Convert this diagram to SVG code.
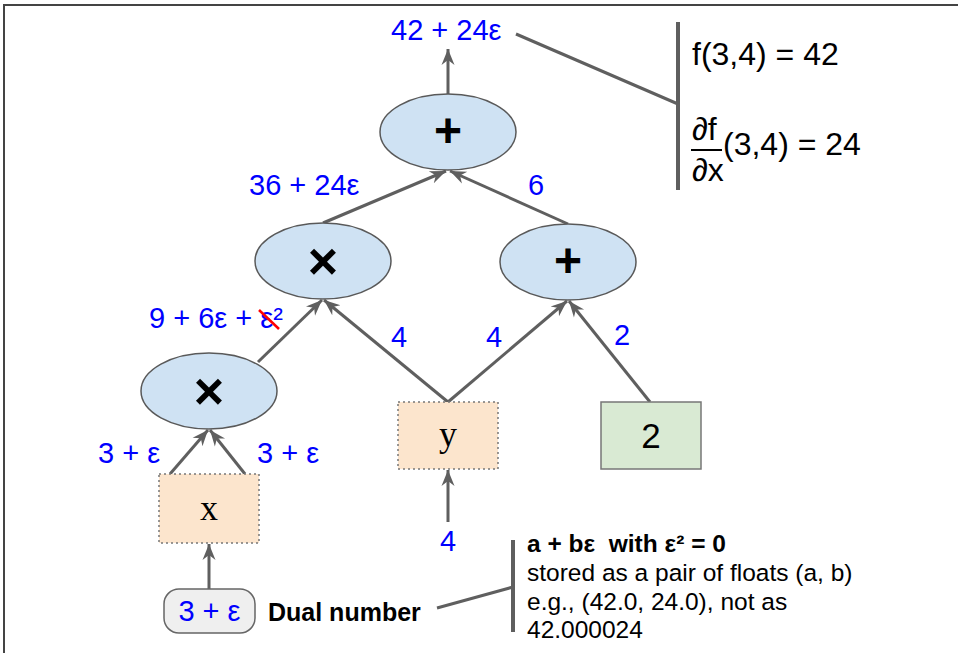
<svg xmlns="http://www.w3.org/2000/svg" width="958" height="653" viewBox="0 0 958 653">
<style>
.lbl{font-family:"Liberation Sans",Arial,sans-serif;font-size:29px;fill:#0000ff}
.op{font-family:"Liberation Sans",Arial,sans-serif;font-weight:bold;fill:#000;text-anchor:middle}
.ell{fill:#cfe2f3;stroke:#595959;stroke-width:1.5}
.conn{stroke:#5f5f5f;stroke-width:3;fill:none}
.arr{marker-end:url(#ah)}
.var{fill:#fce5cd;stroke:#777;stroke-width:1.5;stroke-dasharray:2 3}
.serif{font-family:"Liberation Serif","Times New Roman",serif;font-size:36px;fill:#000;text-anchor:middle}
.note{font-family:"Liberation Sans",Arial,sans-serif;font-size:24.5px;fill:#000}
.big{font-family:"Liberation Sans",Arial,sans-serif;font-size:32px;fill:#000}
</style>
<defs>
<marker id="ah" markerUnits="userSpaceOnUse" markerWidth="18" markerHeight="16" refX="16" refY="8" orient="auto">
<path d="M0,1.5 L16,8 L0,14.5 L5,8 z" fill="#5f5f5f"/>
</marker>
</defs>
<rect x="4" y="5" width="1000" height="700" fill="#fff" stroke="#444" stroke-width="2"/>

<g id="connectors">
<line class="conn arr" x1="448" y1="94" x2="448" y2="49"/>
<line class="conn arr" x1="323" y1="223" x2="446" y2="171"/>
<line class="conn arr" x1="568" y1="224" x2="450" y2="171"/>
<line class="conn arr" x1="258" y1="362" x2="322" y2="300"/>
<line class="conn arr" x1="448" y1="402" x2="324" y2="300"/>
<line class="conn arr" x1="448" y1="402" x2="567" y2="301"/>
<line class="conn arr" x1="650" y1="402" x2="569" y2="301"/>
<line class="conn arr" x1="170" y1="474" x2="208" y2="430"/>
<line class="conn arr" x1="245" y1="474" x2="210" y2="430"/>
<line class="conn arr" x1="448" y1="522" x2="448" y2="470"/>
<line class="conn arr" x1="209" y1="590" x2="209" y2="544"/>
<line class="conn" x1="516" y1="34" x2="678" y2="104"/>
<line class="conn" x1="437" y1="608" x2="513" y2="587"/>
<line stroke="#5f5f5f" stroke-width="4" x1="678" y1="22" x2="678" y2="190"/>
<line stroke="#5f5f5f" stroke-width="4" x1="513" y1="540" x2="513" y2="632"/>
</g>

<g id="plus_top">
<ellipse class="ell" cx="448" cy="132" rx="68" ry="38"/>
<text class="op" x="448" y="147" font-size="48">+</text>
</g>
<g id="times_mid">
<ellipse class="ell" cx="323" cy="261" rx="68" ry="38"/>
<text class="op" x="323" y="279" font-size="52">×</text>
</g>
<g id="plus_mid">
<ellipse class="ell" cx="568" cy="262" rx="68" ry="38"/>
<text class="op" x="568" y="277" font-size="48">+</text>
</g>
<g id="times_low">
<ellipse class="ell" cx="209" cy="391" rx="68" ry="38"/>
<text class="op" x="209" y="409" font-size="52">×</text>
</g>
<g id="var_y">
<rect class="var" x="398" y="402" width="100" height="67"/>
<text class="serif" x="448" y="446">y</text>
</g>
<g id="const_2">
<rect x="601" y="402" width="100" height="67" fill="#d9ead3" stroke="#777" stroke-width="1.5"/>
<text x="651" y="448" font-family="Liberation Sans,Arial,sans-serif" font-size="35" text-anchor="middle">2</text>
</g>
<g id="var_x">
<rect class="var" x="159" y="474" width="100" height="69"/>
<text class="serif" x="209" y="520">x</text>
</g>
<g id="dual">
<rect x="164" y="589" width="91" height="44" rx="15" fill="#efefef" stroke="#666" stroke-width="1.5"/>
<text class="lbl" x="209.5" y="621" text-anchor="middle">3 + ε</text>
<text x="268" y="621" font-family="Liberation Sans,Arial,sans-serif" font-size="25" font-weight="bold">Dual number</text>
</g>

<g id="labels">
<text class="lbl" x="391" y="40">42 + 24ε</text>
<text class="lbl" x="249" y="195">36 + 24ε</text>
<text class="lbl" x="528" y="195">6</text>
<text class="lbl" x="149" y="328">9 + 6ε + ε²</text>
<line x1="259" y1="310" x2="279" y2="329" stroke="#ff0000" stroke-width="2.5"/>
<text class="lbl" x="391" y="347">4</text>
<text class="lbl" x="486" y="347">4</text>
<text class="lbl" x="614" y="345">2</text>
<text class="lbl" x="98" y="463">3 + ε</text>
<text class="lbl" x="257" y="463">3 + ε</text>
<text class="lbl" x="448" y="551" text-anchor="middle">4</text>
</g>

<g id="result_note">
<text class="big" x="692" y="65">f(3,4) = 42</text>
<text class="big" x="692" y="140">∂f</text>
<line x1="691" y1="150" x2="722" y2="150" stroke="#000" stroke-width="2"/>
<text class="big" x="692" y="181">∂x</text>
<text class="big" x="723" y="155">(3,4) = 24</text>
</g>

<g id="dual_note">
<text class="note" x="527" y="552" font-weight="bold" xml:space="preserve">a + bε  with ε² = 0</text>
<text class="note" x="527" y="581">stored as a pair of floats (a, b)</text>
<text class="note" x="527" y="610">e.g., (42.0, 24.0), not as</text>
<text class="note" x="527" y="638">42.000024</text>
</g>
</svg>
